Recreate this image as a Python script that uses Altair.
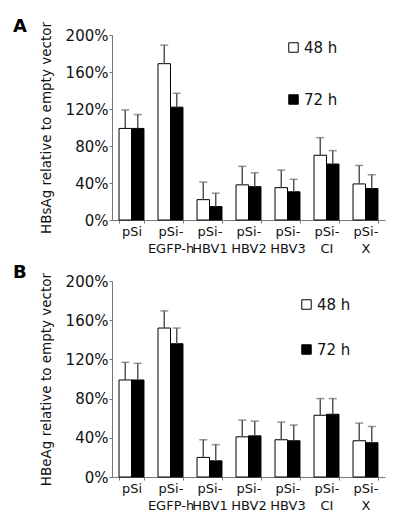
import altair as alt
import pandas as pd

categories = ["pSi", "pSi-\nEGFP-h", "pSi-\nHBV1", "pSi-\nHBV2", "pSi-\nHBV3", "pSi-\nCI", "pSi-\nX"]
series = ["48 h", "72 h"]

# Panel A: HBsAg
hbsag_48 = [99, 169, 22, 38, 35, 70, 39]
hbsag_48_err = [119, 189, 41, 58, 54, 89, 59]
hbsag_72 = [99, 122, 14.5, 36, 30.5, 60.5, 34]
hbsag_72_err = [114, 137, 29, 51, 44, 75, 49]

# Panel B: HBeAg
hbeag_48 = [99, 152, 20, 41, 38, 63, 37]
hbeag_48_err = [117, 169.5, 38, 58, 56, 80, 55]
hbeag_72 = [99, 136, 16.5, 42, 37, 64, 35]
hbeag_72_err = [116, 152, 33, 57, 53, 80, 51.5]

y_ticks = [0, 40, 80, 120, 160, 200]

FONT = "DejaVu Sans"


def build_df(v48, e48, v72, e72):
    rows = []
    for i, c in enumerate(categories):
        rows.append({"cat": c, "series": series[0], "value": v48[i], "upper": e48[i]})
        rows.append({"cat": c, "series": series[1], "value": v72[i], "upper": e72[i]})
    return pd.DataFrame(rows)


def panel(df, letter, ytitle, h, legend_x, legend_y, legend_gap):
    base = alt.Chart(df)
    x_axis = alt.Axis(labelExpr="split(datum.label, '\\n')", labelAngle=0,
                      tickBand="extent", tickSize=3, labelFontSize=13,
                      labelLineHeight=17, labelPadding=2, labelColor="#111",
                      labelOverlap=False, labelBound=False, labelFlush=False,
                      domainColor="#777", tickColor="#777", labelFont=FONT)
    y_axis = alt.Axis(values=y_ticks, labelExpr="datum.value + '%'",
                      tickSize=3, labelPadding=1, labelFontSize=15,
                      labelOverlap=False, labelBound=False, labelFlush=False,
                      titleFontSize=13.5, titleFontWeight="normal",
                      titlePadding=12, titleColor="#111", labelColor="#111",
                      domainColor="#777", tickColor="#777", grid=False,
                      labelFont=FONT, titleFont=FONT)
    x_scale = alt.Scale(paddingInner=0.36, paddingOuter=0.18)
    x = alt.X("cat:N", sort=categories, title=None, scale=x_scale, axis=x_axis)
    xo = alt.XOffset("series:N", sort=series, scale=alt.Scale(paddingInner=0))
    y_scale = alt.Scale(domain=[0, 200], nice=False)
    bars = base.mark_bar(stroke="black", strokeWidth=1).encode(
        x=x,
        xOffset=xo,
        y=alt.Y("value:Q", scale=y_scale, title=ytitle, axis=y_axis),
        fill=alt.Fill("series:N", sort=series,
                      scale=alt.Scale(domain=series, range=["white", "black"]),
                      legend=alt.Legend(title=None, orient="none", legendX=legend_x,
                                        legendY=legend_y, symbolType="square",
                                        symbolSize=90, symbolStrokeColor="black",
                                        symbolStrokeWidth=1, labelFontSize=15,
                                        labelFont=FONT, labelColor="#111",
                                        rowPadding=legend_gap, labelOffset=3)),
    )
    rules = base.mark_rule(color="#555", strokeWidth=1.5).encode(
        x=x,
        xOffset=xo,
        y=alt.Y("value:Q", scale=y_scale, title=ytitle, axis=y_axis),
        y2="upper:Q",
    )
    caps = base.mark_tick(color="#666", thickness=1.5, size=8, orient="horizontal").encode(
        x=x,
        xOffset=xo,
        y=alt.Y("upper:Q", scale=y_scale, title=ytitle, axis=y_axis),
    )
    lab = alt.Chart(pd.DataFrame({"t": [letter]})).mark_text(
        font=FONT, fontSize=18, fontWeight="bold", align="left", baseline="middle", color="black"
    ).encode(text="t:N", x=alt.value(-99), y=alt.value(-8))
    return alt.layer(bars, rules, caps, lab).properties(width=273, height=h)


dfA = build_df(hbsag_48, hbsag_48_err, hbsag_72, hbsag_72_err)
dfB = build_df(hbeag_48, hbeag_48_err, hbeag_72, hbeag_72_err)

pA = panel(dfA, "A", "HBsAg relative to empty vector", 185, 174, 5, 36)
pB = panel(dfB, "B", "HBeAg relative to empty vector", 196, 187, 16, 29)

chart = alt.vconcat(pA, pB, spacing=9).resolve_scale(
    fill="independent"
).resolve_legend(fill="independent").properties(
    padding={"left": 5, "top": 10, "right": 5, "bottom": 5}
).configure_view(stroke=None).configure_axis(labelOverlap=False)

chart.save("out.html", embed_options={"renderer": "svg", "actions": False})
